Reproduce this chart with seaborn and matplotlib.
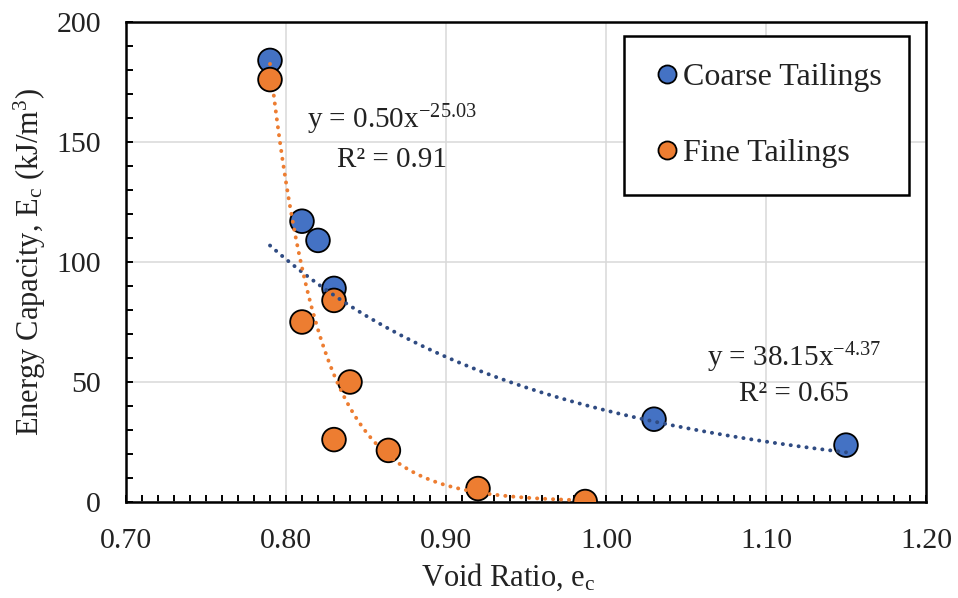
import numpy as np
import pandas as pd
import matplotlib
matplotlib.use("Agg")
import matplotlib.pyplot as plt
import seaborn as sns
from matplotlib.lines import Line2D
from matplotlib.ticker import MultipleLocator, FormatStrFormatter

# ---- data ----
coarse_void = [0.79, 0.81, 0.82, 0.83, 1.03, 1.15]
coarse_energy = [184, 117, 109, 89, 34.5, 23.7]
fine_void = [0.79, 0.81, 0.83, 0.84, 0.83, 0.864, 0.92, 0.987]
fine_energy = [176, 75, 84, 50, 26, 21.5, 5.6, 0.2]
series_names = ["Coarse Tailings", "Fine Tailings"]
# power-law trendline coefficients (y = a * x^b) as printed on the chart
fit_a = [38.15, 0.50]
fit_b = [-4.37, -25.03]
fit_r2 = [0.65, 0.91]

colors = ["#4472C4", "#ED7D31"]
trend_colors = ["#2F4B82", "#ED7D31"]

sns.set_theme(style="white")
plt.rcParams["font.family"] = ["Liberation Serif", "DejaVu Serif"]
plt.rcParams["mathtext.fontset"] = "custom"
plt.rcParams["mathtext.rm"] = "Liberation Serif"
plt.rcParams["mathtext.it"] = "Liberation Serif:italic"

df = pd.DataFrame({
    "void": coarse_void + fine_void,
    "energy": coarse_energy + fine_energy,
    "series": [series_names[0]] * len(coarse_void) + [series_names[1]] * len(fine_void),
})

fig = plt.figure(figsize=(9.58, 5.98), dpi=100)
ax = fig.add_axes([126 / 958, 96 / 598, 800 / 958, 480 / 598])

ax.grid(True, color="#D9D9D9", linewidth=1.1, zorder=0)
ax.set_axisbelow(True)

sns.scatterplot(data=df, x="void", y="energy", hue="series", palette=colors,
                s=290, edgecolor="black", linewidth=1.3, legend=False, ax=ax, zorder=3)

xs_sets = [coarse_void, fine_void]
for i in range(2):
    xg = np.linspace(min(xs_sets[i]), max(xs_sets[i]), 300)
    yg = fit_a[i] * xg ** fit_b[i]
    ax.plot(xg, yg, linestyle=(0, (0.05, 2.0)), color=trend_colors[i], linewidth=2.8,
            dash_capstyle="round", solid_capstyle="round", zorder=4)

ax.set_xlim(0.70, 1.20)
ax.set_ylim(0, 200)
ax.xaxis.set_major_locator(MultipleLocator(0.1))
ax.xaxis.set_minor_locator(MultipleLocator(0.01))
ax.yaxis.set_major_locator(MultipleLocator(50))
ax.yaxis.set_minor_locator(MultipleLocator(10))
ax.xaxis.set_major_formatter(FormatStrFormatter("%.2f"))

ax.tick_params(axis="both", which="both", direction="in", color="black",
               width=1.4, bottom=True, left=True, top=False, right=False)
ax.tick_params(axis="both", which="major", length=5, labelsize=21.5)
ax.tick_params(axis="both", which="minor", length=5)
ax.tick_params(axis="x", which="major", pad=19)
ax.tick_params(axis="y", which="major", pad=18)
for lab in ax.get_xticklabels() + ax.get_yticklabels():
    lab.set_color("#222222")

for sp in ax.spines.values():
    sp.set_visible(True)
    sp.set_color("black")
    sp.set_linewidth(1.8)

ax.set_xlabel(r"Void Ratio, e$_\mathrm{c}$", fontsize=22, color="#222222",
              labelpad=5, x=0.478)
ax.set_ylabel(r"Energy Capacity, E$_\mathrm{c}$ (kJ/m$^\mathrm{3}$)", fontsize=22,
              color="#222222", labelpad=6)

# equations
eq_pos = [(1.1175, 56.4, 42.1), (0.8665, 155.8, 139.7)]
for i in range(2):
    x0, y1, y2 = eq_pos[i]
    ax.text(x0, y1, r"y = %.2fx$^{%.2f}$" % (fit_a[i], fit_b[i]), fontsize=21,
            ha="center", va="baseline", color="#222222", zorder=5)
    ax.text(x0, y2, "R² = %.2f" % fit_r2[i], fontsize=21,
            ha="center", va="baseline", color="#222222", zorder=5)

handles = [Line2D([0], [0], marker="o", linestyle="none", markersize=13,
                  markerfacecolor=colors[i], markeredgecolor="black",
                  markeredgewidth=1.3) for i in range(2)]
leg = ax.legend(handles, series_names, loc="upper left",
                bbox_to_anchor=(0.6225, 0.971), fontsize=23, frameon=True,
                fancybox=False, edgecolor="black", framealpha=1,
                borderpad=0.85, labelspacing=1.45, handlelength=1.0,
                handletextpad=0.0, borderaxespad=0)
leg.get_frame().set_linewidth(1.8)
for t in leg.get_texts():
    t.set_color("#222222")

fig.savefig("out.png", dpi=100)
